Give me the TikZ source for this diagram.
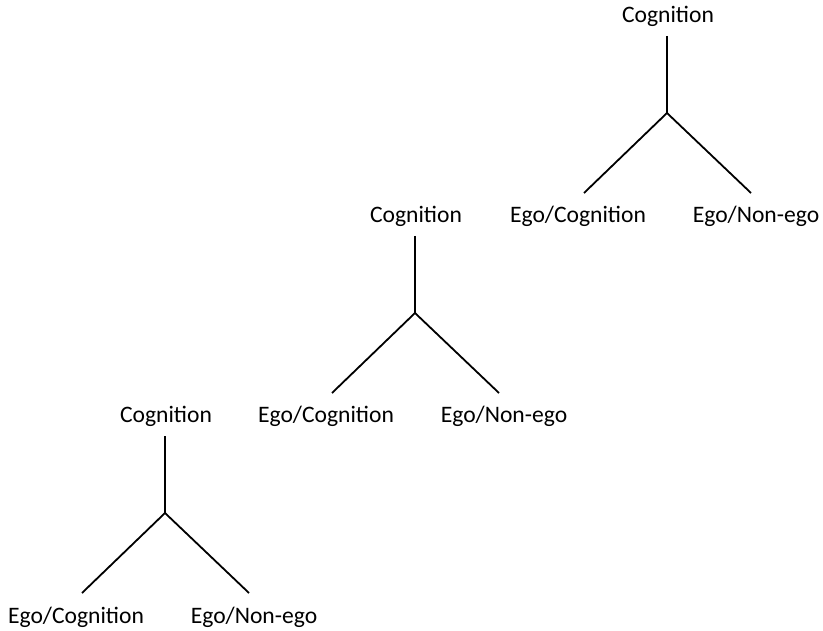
\documentclass[tikz,border=0pt]{standalone}
\usepackage{fontspec}
\setmainfont{Carlito}
\begin{document}
\begin{tikzpicture}[x=1pt,y=-1pt,
  lbl/.style={anchor=base,inner sep=0pt,font=\fontsize{23.6}{26}\selectfont},
  branch/.style={line width=1.8pt,line cap=butt}]
\useasboundingbox (0,0) rectangle (823,631);
\foreach \t/\cx/\yo in {1/667/36,2/415/236,3/165/436}{
  \begin{scope}[shift={(\cx,\yo)}]
    \node[lbl] (root\t) at (1,-13) {Cognition};
    \node[lbl] (left\t) at (-89,187) {Ego/Cognition};
    \node[lbl] (right\t) at (89,187) {Ego/Non-ego};
    \coordinate (top\t) at (0,0);
    \coordinate (j\t) at (0,77);
    \coordinate (l\t) at (-83,157);
    \coordinate (r\t) at (84,157);
    \draw[branch] (top\t) -- (j\t);
    \draw[branch] (j\t) -- (l\t);
    \draw[branch] (j\t) -- (r\t);
  \end{scope}
}
\end{tikzpicture}
\end{document}
